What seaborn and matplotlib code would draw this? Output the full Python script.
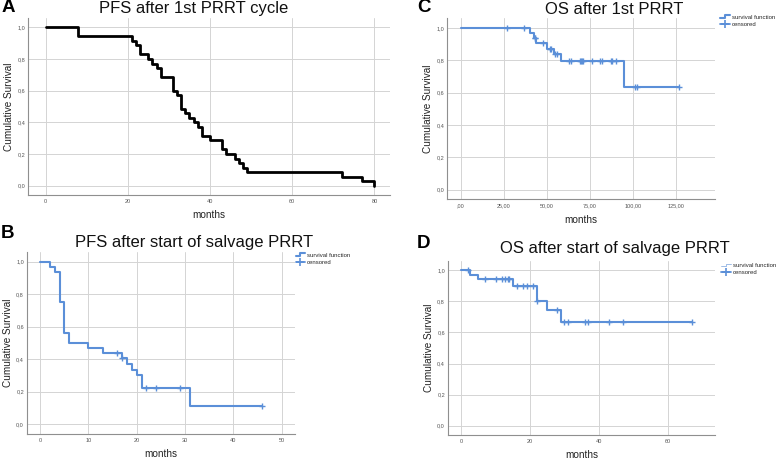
import matplotlib
matplotlib.use("Agg")
import matplotlib.pyplot as plt
import pandas as pd
import seaborn as sns
from matplotlib.legend_handler import HandlerBase
from matplotlib.lines import Line2D

# --- data ---
# A: PFS after 1st PRRT cycle
times_a = [0, 8, 21, 22, 23, 25, 26, 27, 28, 31, 32, 33, 34, 35, 36, 37, 38, 40,
           43, 44, 46, 47, 48, 49, 72, 77, 80]
surv_a = [1.0, 0.943, 0.914, 0.886, 0.829, 0.800, 0.771, 0.743, 0.686, 0.600, 0.571,
          0.486, 0.457, 0.429, 0.400, 0.371, 0.314, 0.286, 0.229, 0.200, 0.171, 0.143,
          0.114, 0.086, 0.057, 0.029, 0.0]

# B: PFS after start of salvage PRRT
times_b = [0, 2, 3, 4, 5, 6, 10, 13, 17, 18, 19, 20, 21, 31, 46]
surv_b = [1.0, 0.969, 0.938, 0.75, 0.563, 0.50, 0.469, 0.438, 0.404, 0.37, 0.335,
          0.30, 0.22, 0.11, 0.11]
cens_b_t = [16, 17, 22, 24, 29, 46]
cens_b_s = [0.438, 0.404, 0.22, 0.22, 0.22, 0.11]

# C: OS after 1st PRRT
times_c = [0, 40, 42.5, 44, 50, 54, 58, 95, 127]
surv_c = [1.0, 0.968, 0.937, 0.905, 0.873, 0.840, 0.795, 0.636, 0.636]
cens_c_t = [27, 37, 43, 43.4, 48, 52, 52.7, 55, 56, 63, 64, 69, 70, 70.5, 71, 76,
            81, 82, 87, 88, 90, 101, 102.5, 127]
cens_c_s = [1.0, 1.0, 0.937, 0.937, 0.905, 0.873, 0.873, 0.840, 0.840, 0.795, 0.795,
            0.795, 0.795, 0.795, 0.795, 0.795, 0.795, 0.795, 0.795, 0.795, 0.795,
            0.636, 0.636, 0.636]

# D: OS after start of salvage PRRT
times_d = [0, 2.6, 5, 15, 22, 25, 29, 67]
surv_d = [1.0, 0.972, 0.942, 0.902, 0.80, 0.744, 0.667, 0.667]
cens_d_t = [2, 7, 10, 12, 12.7, 13.5, 14, 16.2, 18, 19, 21, 22, 28, 30, 31, 36, 37,
            43, 47, 67]
cens_d_s = [1.0, 0.942, 0.942, 0.942, 0.942, 0.942, 0.942, 0.902, 0.902, 0.902,
            0.902, 0.80, 0.744, 0.667, 0.667, 0.667, 0.667, 0.667, 0.667, 0.667]

y_ticks = [0.0, 0.2, 0.4, 0.6, 0.8, 1.0]
y_labels = ["0,0", "0,2", "0,4", "0,6", "0,8", "1,0"]

BLUE = "#5b8fd8"

sns.set_theme(style="whitegrid")
plt.rcParams["font.family"] = ["Liberation Sans", "DejaVu Sans"]

fig = plt.figure(figsize=(7.78, 4.59), dpi=100)


class HandlerStep(HandlerBase):
    # little step icon, like the SPSS legend
    def __init__(self, lw, color):
        super().__init__()
        self.lw = lw
        self.color = color

    def create_artists(self, legend, orig_handle, xdescent, ydescent, width, height,
                       fontsize, trans):
        x0, y0 = -xdescent, -ydescent
        xs = [x0, x0 + width * 0.45, x0 + width * 0.45, x0 + width]
        ys = [y0 + height * 0.25, y0 + height * 0.25, y0 + height * 0.85, y0 + height * 0.85]
        line = Line2D(xs, ys, color=self.color, lw=self.lw, transform=trans)
        return [line]


def km_panel(rect, times, surv, color, lw, xticks, xlabels, xlim,
             cens_t=None, cens_s=None):
    ax = fig.add_axes(rect)
    df = pd.DataFrame({"months": times, "surv": surv})
    sns.lineplot(data=df, x="months", y="surv", drawstyle="steps-post",
                 estimator=None, color=color, lw=lw, ax=ax)
    if cens_t is not None:
        cdf = pd.DataFrame({"months": cens_t, "surv": cens_s})
        sns.scatterplot(data=cdf, x="months", y="surv", marker="+", s=22,
                        linewidth=1.0, color=color, ax=ax, zorder=3)
    ax.set_xlim(*xlim)
    ax.set_ylim(-0.06, 1.06)
    ax.set_xticks(xticks)
    ax.set_xticklabels(xlabels)
    ax.set_yticks(y_ticks)
    ax.set_yticklabels(y_labels)
    ax.grid(True, color="#d4d4d4", lw=0.7)
    for side in ["top", "right"]:
        ax.spines[side].set_visible(False)
    for side in ["left", "bottom"]:
        ax.spines[side].set_color("#8f8f8f")
        ax.spines[side].set_linewidth(0.8)
    ax.tick_params(axis="both", length=0, labelsize=4, colors="#555555")
    ax.tick_params(axis="x", pad=3)
    ax.tick_params(axis="y", pad=2)
    ax.set_xlabel("months", fontsize=7.2, color="#222222", labelpad=4.5)
    ax.set_ylabel("Cumulative Survival", fontsize=7.2, color="#222222", labelpad=2.5)
    return ax


def km_legend(ax, x, y, step_lw, step_color):
    handles = [Line2D([0], [0]), Line2D([0], [0], color=BLUE, lw=1.3, marker="+",
                                        markersize=6, mew=1.2)]
    ax.legend(handles, ["survival function", "censored"],
              handler_map={handles[0]: HandlerStep(step_lw, step_color)},
              loc="upper left", bbox_to_anchor=(x, y), bbox_transform=fig.transFigure,
              frameon=False, fontsize=4.3, handlelength=1.6, handletextpad=0.3,
              borderpad=0, borderaxespad=0, labelspacing=0.35)


ax_a = km_panel([0.0364, 0.575, 0.465, 0.386], times_a, surv_a, "black", 2.0,
                [0, 20, 40, 60, 80], ["0", "20", "40", "60", "80"], (-4.2, 83.8))
ax_b = km_panel([0.0343, 0.0545, 0.345, 0.397], times_b, surv_b, BLUE, 1.5,
                [0, 10, 20, 30, 40, 50], ["0", "10", "20", "30", "40", "50"],
                (-2.8, 52.8), cens_b_t, cens_b_s)
ax_c = km_panel([0.575, 0.566, 0.344, 0.394], times_c, surv_c, BLUE, 1.5,
                [0, 25, 50, 75, 100, 125],
                [",00", "25,00", "50,00", "75,00", "100,00", "125,00"],
                (-7.7, 147.6), cens_c_t, cens_c_s)
ax_d = km_panel([0.5755, 0.0523, 0.3436, 0.379], times_d, surv_d, BLUE, 1.5,
                [0, 20, 40, 60], ["0", "20", "40", "60"], (-3.9, 73.8),
                cens_d_t, cens_d_s)

km_legend(ax_b, 0.380, 0.450, 1.5, BLUE)
km_legend(ax_c, 0.926, 0.968, 1.5, BLUE)
km_legend(ax_d, 0.927, 0.427, 0.6, "#8fb2e3")

# titles and panel letters
titles = [(194, 8, "PFS after 1st PRRT cycle"), (614, 10, "OS after 1st PRRT"),
          (194, 243, "PFS after start of salvage PRRT"),
          (615, 248, "OS after start of salvage PRRT")]
for px, py, txt in titles:
    fig.text(px / 778, 1 - py / 459, txt, ha="center", va="center",
             fontsize=12, color="#111111")

letters = [(2, 8, "A"), (417, 8, "C"), (1, 233, "B"), (417, 243, "D")]
for px, py, txt in letters:
    fig.text(px / 778, 1 - py / 459, txt, ha="left", va="center",
             fontsize=13.5, fontweight="bold", color="black")

fig.savefig("out.png", dpi=100)
